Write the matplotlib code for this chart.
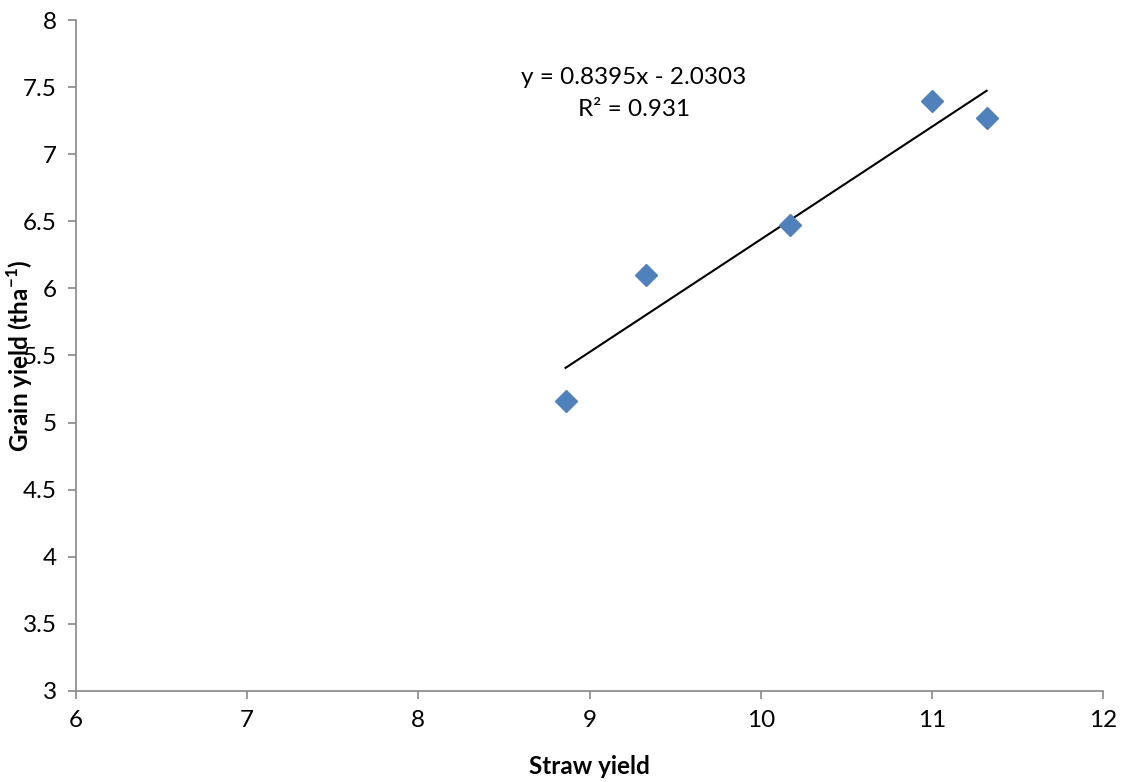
import matplotlib
matplotlib.use("Agg")
import matplotlib.pyplot as plt
import numpy as np

plt.rcParams['font.family'] = ['Lato', 'DejaVu Sans']
plt.rcParams['mathtext.fontset'] = 'custom'
plt.rcParams['mathtext.rm'] = 'Lato'
plt.rcParams['mathtext.bf'] = 'Lato:bold'

# straw yield vs grain yield
straw = [8.86, 9.33, 10.17, 11.0, 11.32]
grain = [5.16, 6.10, 6.47, 7.40, 7.27]

# trendline as printed on the chart
slope = 0.8395
intercept = -2.0303
eq_text = "y = 0.8395x - 2.0303"
r2_text = "R\u00b2 = 0.931"

xticks = [6, 7, 8, 9, 10, 11, 12]
yticks = [3, 3.5, 4, 4.5, 5, 5.5, 6, 6.5, 7, 7.5, 8]

fig = plt.figure(figsize=(11.23, 7.82), dpi=100)
ax = fig.add_axes([0.0677, 0.1164, 0.9145, 0.858])

xs = np.array([min(straw), max(straw)])
ax.plot(xs, slope * xs + intercept, color='black', lw=1.5)
ax.plot(straw, grain, 'D', color='#4F81BD', ms=11, mec='#4F81BD')

ax.set_xlim(6, 12)
ax.set_ylim(3, 8)
ax.set_xticks(xticks)
ax.set_yticks(yticks)
ax.set_xticklabels([str(t) for t in xticks])
ax.set_yticklabels([('%g' % t) for t in yticks])

for s in ['top', 'right']:
    ax.spines[s].set_visible(False)
for s in ['left', 'bottom']:
    ax.spines[s].set_color('#888888')
    ax.spines[s].set_linewidth(1.2)
ax.tick_params(colors='black', labelsize=17.5, length=6, width=1.2, color='#888888', pad=8)

ax.text(9.26, 7.575, eq_text, ha='center', va='center', fontsize=17.5)
ax.text(9.26, 7.33, r2_text, ha='center', va='center', fontsize=17.5)

ax.set_xlabel("Straw yield", fontsize=17.5, fontweight='bold')
ax.set_ylabel(r"Grain yield (tha$^{\mathbf{-1}}$)", fontsize=17.5, fontweight='bold')
ax.xaxis.set_label_coords(0.4995, -0.113)
ax.yaxis.set_label_coords(-0.0545, 0.5)
ax.xaxis.label.set_va('center')
ax.yaxis.label.set_va('center')

fig.savefig("out.png", dpi=100)
